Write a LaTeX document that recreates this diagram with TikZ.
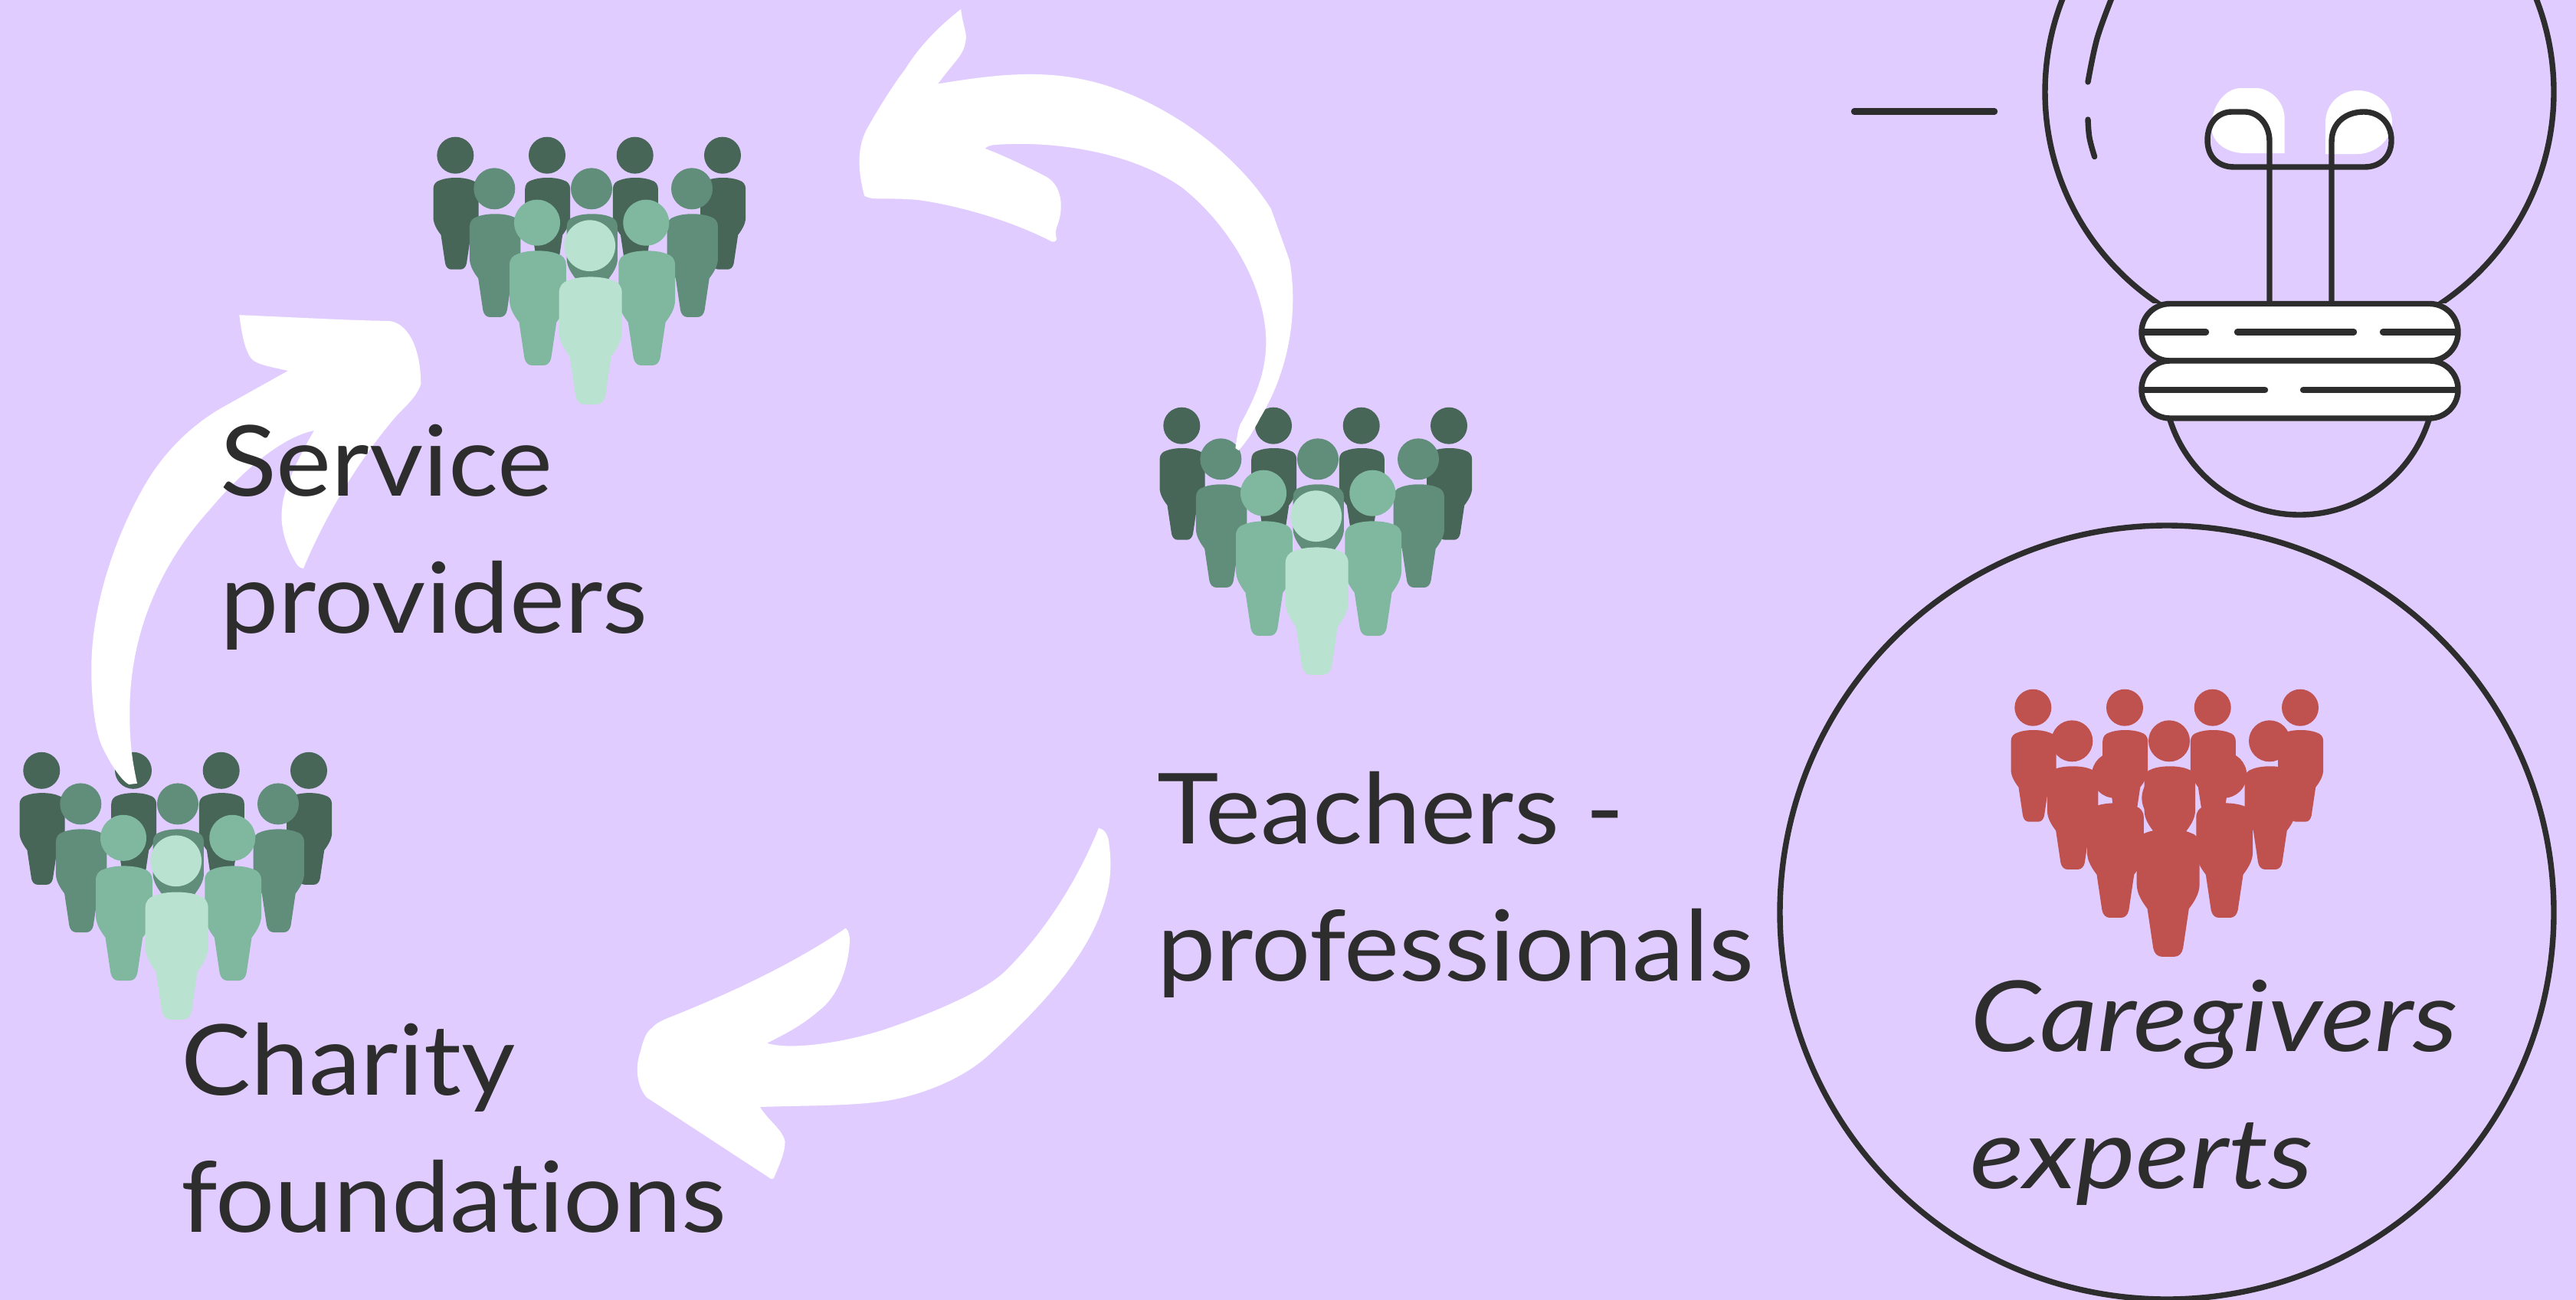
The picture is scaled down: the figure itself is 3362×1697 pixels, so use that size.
\documentclass[tikz,border=0pt]{standalone}
\usepackage{fontspec}
\setmainfont{Lato}[FakeStretch=1.065,Ligatures=NoCommon,ItalicFeatures={FakeStretch=1.15}]
\definecolor{bgc}{HTML}{E1CCFF}
\definecolor{ink}{HTML}{2D2D2D}
\definecolor{gA}{HTML}{476658}
\definecolor{gB}{HTML}{618E7B}
\definecolor{gC}{HTML}{80B89F}
\definecolor{gD}{HTML}{BAE2D1}
\definecolor{redp}{HTML}{BF524F}
\newcommand{\oneperson}[4]{%
  \begin{scope}[shift={(#1,#2)},scale=#3]
    \fill[#4] (0,0) circle[radius=24];
    \fill[#4,xshift=.35pt] (0,29.3) .. controls (8,29.3) and (16,30.5) .. (21,32.7)
      .. controls (26,34) and (29.5,38) .. (29.5,44) -- (29.5,81)
      .. controls (29.5,90) and (24,98) .. (19.5,104) -- (14,141)
      .. controls (13,146) and (10,149) .. (6,149) -- (-6,149)
      .. controls (-10,149) and (-13,146) .. (-14,141) -- (-19.5,104)
      .. controls (-24,98) and (-29.5,90) .. (-29.5,81) -- (-29.5,44)
      .. controls (-29.5,38) and (-26,34) .. (-21,32.7)
      .. controls (-16,30.5) and (-8,29.3) .. (0,29.3) -- cycle;
  \end{scope}}
\newcommand{\crowd}[6]{%
  \begin{scope}[shift={(#1,#2)}]
    \oneperson{0}{0}{1}{#3}\oneperson{119.7}{0}{1}{#3}\oneperson{234.4}{0}{1}{#3}\oneperson{348.7}{0}{1}{#3}
    \oneperson{51}{43.6}{1.125}{#4}\oneperson{177.7}{43.6}{1.125}{#4}\oneperson{308.7}{43.6}{1.125}{#4}
    \oneperson{106.7}{88}{1.25}{#5}\oneperson{249}{88}{1.25}{#5}
    \oneperson{175.4}{118}{1.39}{#6}
  \end{scope}}
\tikzset{
  label text/.style={text=ink,inner sep=0pt,outer sep=0pt,align=left,font=\fontsize{64}{89.5}\selectfont},
  ink line/.style={draw=ink,line width=3.7pt,line cap=round},
  ink thick/.style={draw=ink,line width=4.2pt,line cap=round},
  sm/.style={smooth,tension=.6}
}
\begin{document}
\begin{tikzpicture}[x=0.5pt,y=-0.5pt]
\useasboundingbox (0,0) rectangle (3362,1697);
\fill[bgc] (0,0) rectangle (3362,1697);
% crowds
\crowd{594.3}{202.7}{gA}{gB}{gC}{gD}
\crowd{1542.3}{555.7}{gA}{gB}{gC}{gD}
\crowd{54.3}{1005.8}{gA}{gB}{gC}{gD}
\crowd{2653.3}{923.7}{redp}{redp}{redp}{redp}
% arrow top
\fill[white] (1224,109.5) .. controls (1300,97) and (1370,88) .. (1445,112)
  .. controls (1540,143) and (1620,210) .. (1659,273) -- (1683,340)
  .. controls (1692,390) and (1690,470) .. (1645,545)
  .. controls (1632,570) and (1625,578) .. (1616.6,588) -- (1612.4,585)
  .. controls (1615,565) and (1617,555) .. (1621,550)
  .. controls (1640,515) and (1652,485) .. (1652.4,447)
  .. controls (1652,370) and (1600,290) .. (1543,245)
  .. controls (1480,200) and (1380,183) .. (1299,189)
  .. controls (1292,189.5) and (1288,191.5) .. (1285.4,193.8)
  .. controls (1310,203) and (1345,220) .. (1366,231)
  .. controls (1385,242) and (1390,270) .. (1379,297)
  .. controls (1377,303) and (1378,308) .. (1379,312)
  .. controls (1378,316) and (1375,316) .. (1372,315)
  .. controls (1320,288) and (1250,268) .. (1198,261)
  .. controls (1170,258.5) and (1150,260) .. (1139,259)
  .. controls (1132,258) and (1128,256) .. (1128,255)
  .. controls (1120,225) and (1118,195) .. (1130.5,170)
  .. controls (1150,135) and (1170,105) .. (1181,91)
  .. controls (1200,60) and (1225,35) .. (1254,12)
  .. controls (1257,35) and (1263,45) .. (1260,55)
  .. controls (1257,72) and (1250,75) .. (1224,109.5) -- cycle;
% arrow left
\fill[white] (312.3,411.2) .. controls (380,414) and (450,418) .. (506.7,419)
  .. controls (530,420) and (549,450) .. (549.3,501.4)
  .. controls (545,515) and (535,525) .. (520,540)
  .. controls (480,585) and (430,660) .. (396,742)
  .. controls (392,742) and (388,738) .. (386.7,735.6)
  .. controls (372,712) and (365,685) .. (368.3,662)
  .. controls (370,640) and (385,605) .. (410,562)
  .. controls (370,570) and (320,610) .. (273,666)
  .. controls (215,730) and (169,820) .. (169.3,930)
  .. controls (169,970) and (173,995) .. (179,1022.7) -- (168.3,1024)
  .. controls (160,1020) and (145,1000) .. (133,974)
  .. controls (122,950) and (119,900) .. (119.3,870)
  .. controls (120,790) and (150,700) .. (190,631.5)
  .. controls (215,589) and (250,555) .. (290,532) -- (376,484)
  .. controls (350,478) and (335,476) .. (328,468)
  .. controls (318,455) and (315,430) .. (312.3,411.2) -- cycle;
% arrow bottom
\fill[white] (1433.9,1081) .. controls (1441,1082) and (1446,1090) .. (1447,1098)
  .. controls (1451,1125) and (1450,1150) .. (1442.9,1173)
  .. controls (1425,1235) and (1380,1295) .. (1291,1376.7)
  .. controls (1255,1410) and (1200,1430) .. (1157,1437)
  .. controls (1110,1444) and (1050,1443) .. (992,1445)
  .. controls (1000,1460) and (1022,1475) .. (1024.5,1490)
  .. controls (1025,1505) and (1015,1525) .. (1009.8,1538)
  .. controls (1008,1540) and (1006,1539) .. (1005,1538) -- (844.6,1433)
  .. controls (832,1420) and (828,1395) .. (835.7,1373)
  .. controls (840,1355) and (845,1345) .. (851.3,1341.7)
  .. controls (855,1336) and (865,1332) .. (871.4,1329)
  .. controls (940,1302) and (1030,1262) .. (1103.6,1211.7)
  .. controls (1108,1215) and (1109,1222) .. (1109,1227)
  .. controls (1108,1260) and (1095,1300) .. (1067.9,1320)
  .. controls (1045,1340) and (1020,1352) .. (1001,1361.7)
  .. controls (1030,1371) and (1100,1362) .. (1157,1343)
  .. controls (1230,1318) and (1290,1290) .. (1313,1266.7)
  .. controls (1370,1210) and (1410,1140) .. (1433.9,1081) -- cycle;
% bulb
\begin{scope}
  \clip (2600,-20) rectangle (3362,395);
  \draw[ink line] (3001,120) circle[radius=332];
\end{scope}
\begin{scope}
  \clip (2800,548) rectangle (3200,700);
  \draw[ink line] (3001,495) circle[radius=177];
\end{scope}
\draw[ink line] plot[sm] coordinates {(2757,-5) (2737,50) (2725,107)};
\draw[ink line] plot[sm] coordinates {(2725,156) (2727,180) (2733.6,204.5)};
\draw[ink thick] (2420,145.5) -- (2603,145.5);
\fill[white] (2981.6,200) -- (2981.6,155) .. controls (2981.6,130) and (2960,115) .. (2945,115) -- (2925,115) .. controls (2903,115) and (2886,140) .. (2886,165) .. controls (2886,185) and (2905,200) .. (2930,200) -- cycle;
\fill[white] (3035,201) -- (3035,160) .. controls (3035,135) and (3055,118) .. (3077,118) .. controls (3100,118) and (3122,135) .. (3122,160) .. controls (3122,182) and (3100,201) .. (3077,201) -- cycle;
\draw[ink line,line join=round] (2962,395) -- (2962,185) .. controls (2962,160) and (2945,146) .. (2930,146) -- (2913,146) .. controls (2895,146) and (2881,160) .. (2881,183) .. controls (2881,205) and (2895,218) .. (2916,218) -- (3086,218) .. controls (3106,218) and (3121,205) .. (3121,183) .. controls (3121,160) and (3105,146) .. (3085,146) .. controls (3062,146) and (3043,160) .. (3043,185) -- (3043,395);
\draw[ink line,fill=white,rounded corners=18.5pt] (2795,396.5) rectangle (3208,471);
\draw[ink line,fill=white,rounded corners=18.5pt] (2795,471) rectangle (3208,546);
\draw[ink thick] (2798,433.5) -- (2879,433.5) (2920,433.5) -- (3072,433.5) (3110,433.5) -- (3205,433.5);
\draw[ink thick] (2798,509) -- (2956,509) (3006,509) -- (3205,509);
% big circle
\draw[ink line] (2828,1191) circle[radius=505];
% labels
\node[label text,anchor=south west] (service) at (287,848) {Service\\providers};
\node[label text,anchor=south west] (teachers) at (1510,1302) {Teachers -\\professionals};
\node[label text,anchor=south west] (charity) at (236,1610) {Charity\\foundations};
\node[label text,anchor=south west,font=\fontsize{64}{89.5}\selectfont\itshape] (care) at (2571,1573) {Caregivers\\experts};
\end{tikzpicture}
\end{document}
